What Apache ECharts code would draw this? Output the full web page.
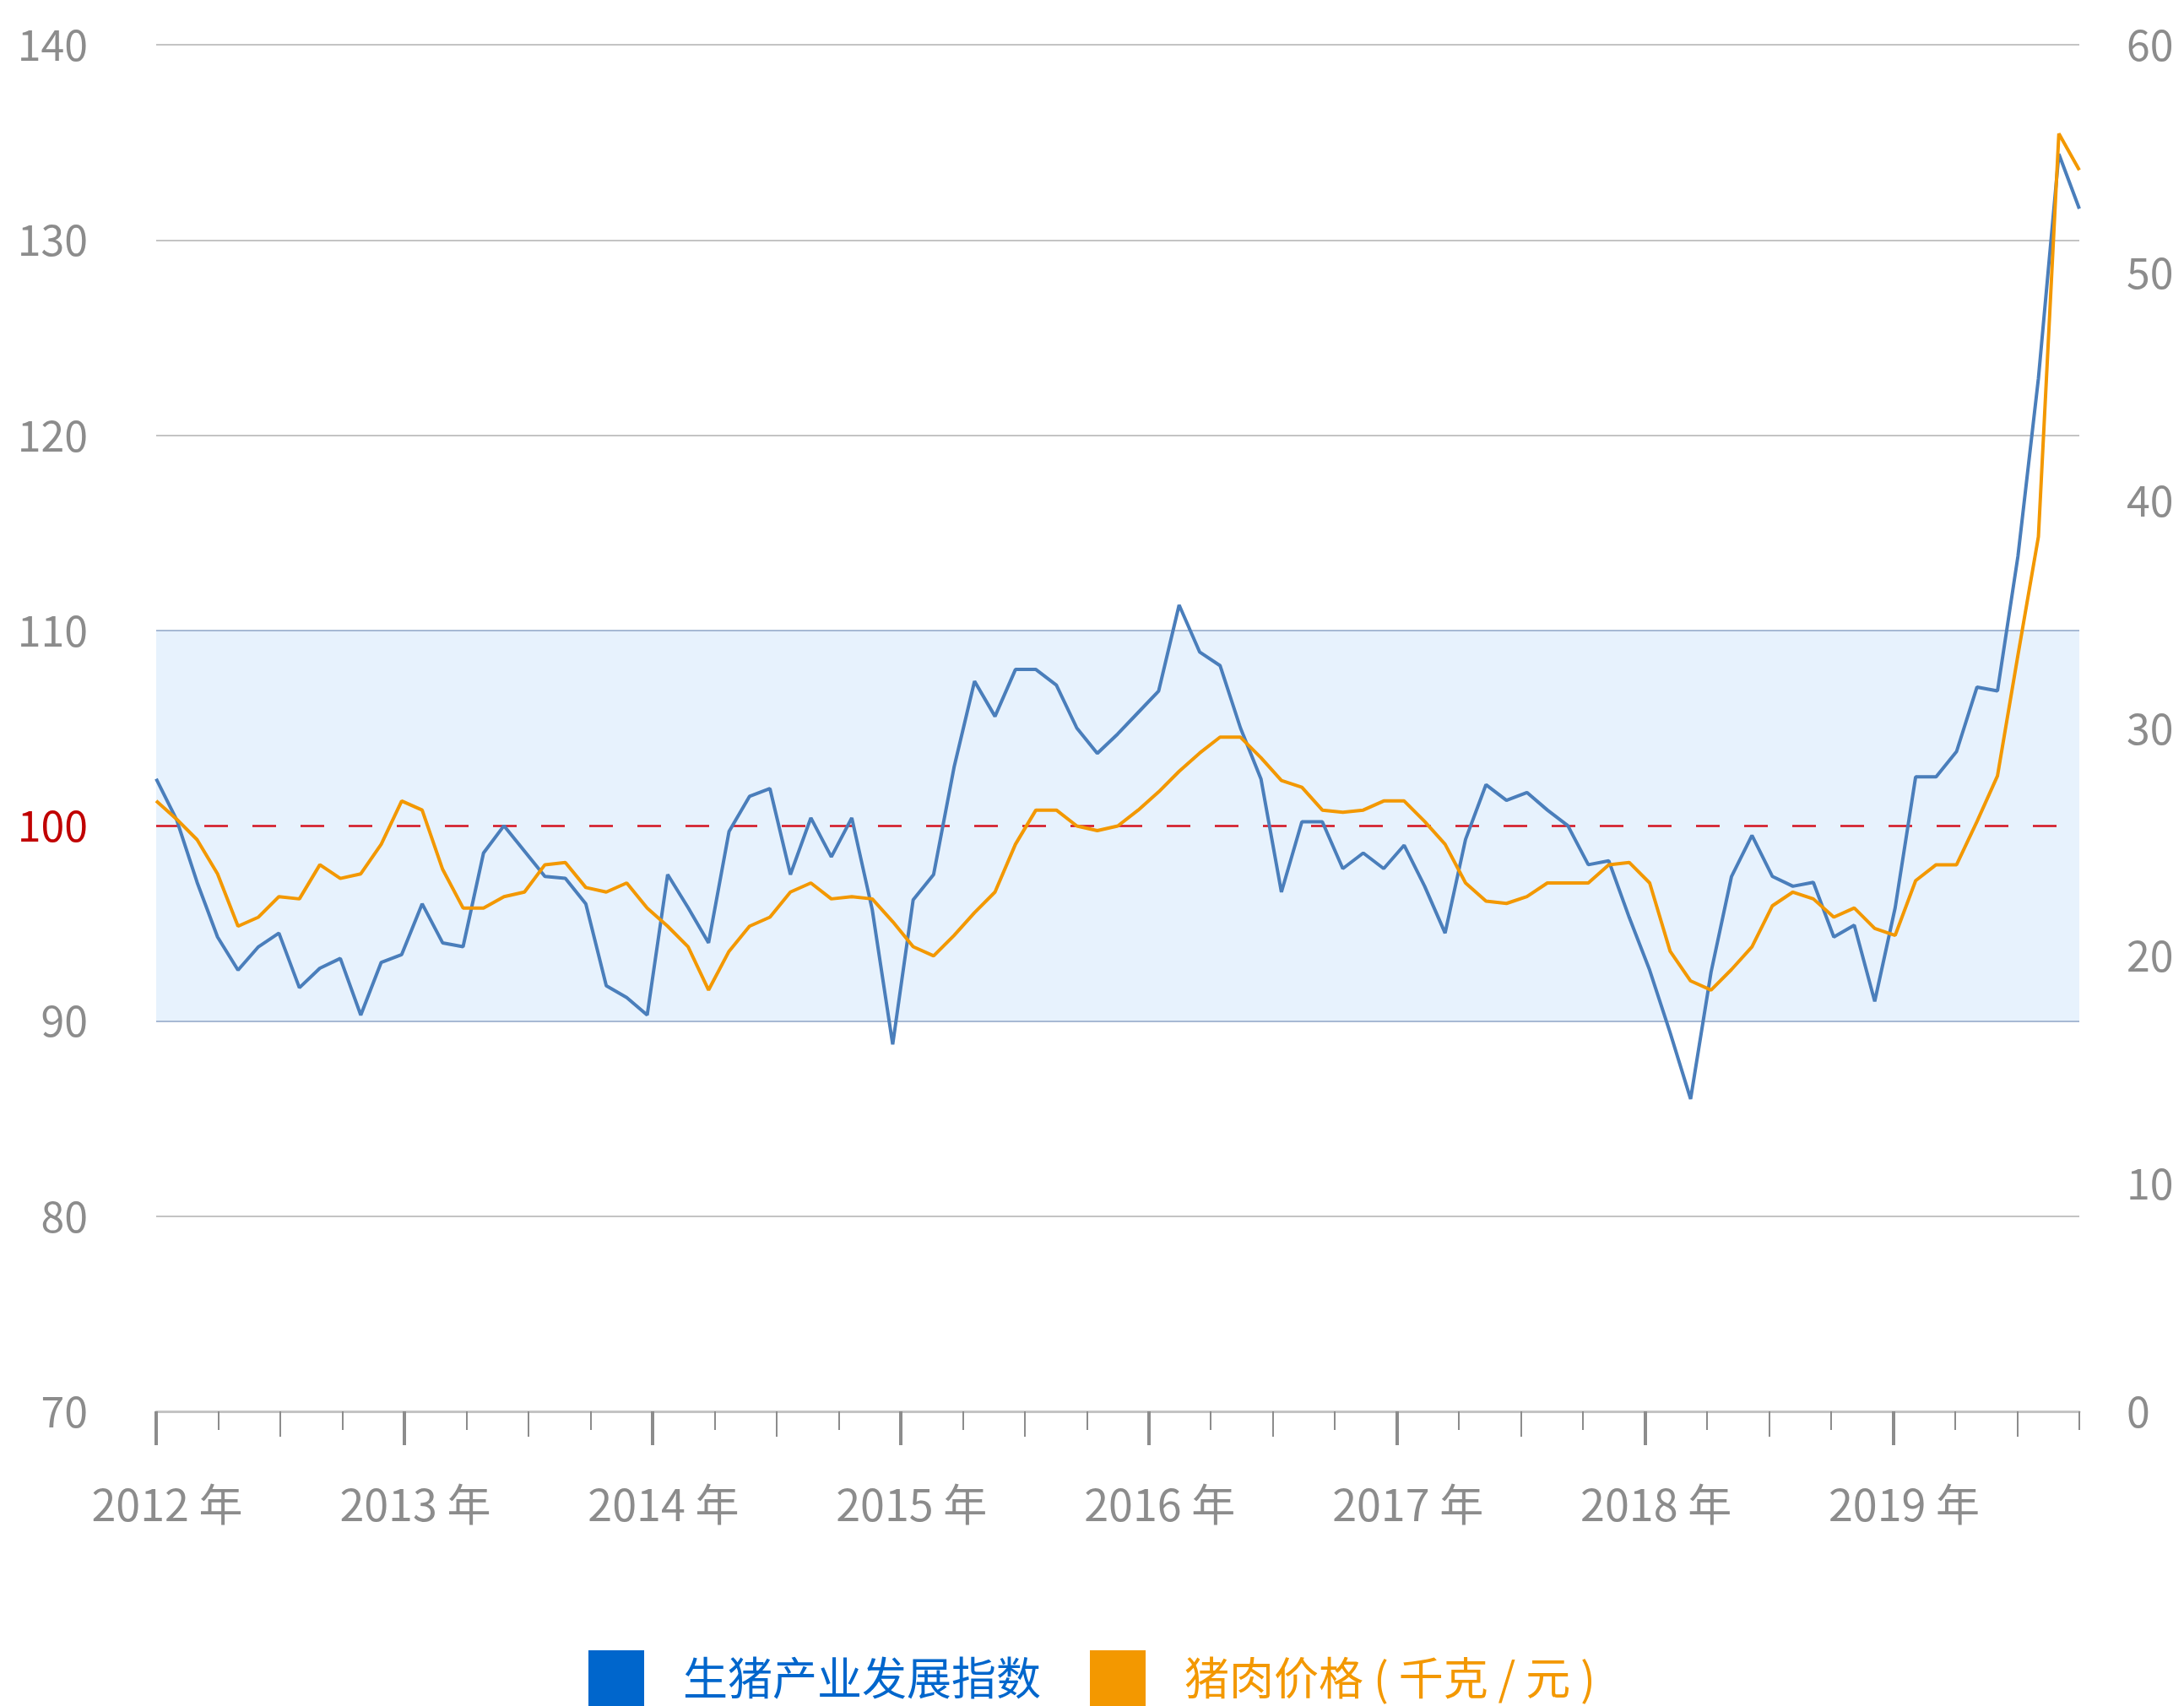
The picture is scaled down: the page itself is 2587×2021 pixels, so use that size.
<!DOCTYPE html>
<html>
<head>
<meta charset="utf-8">
<title>生猪产业发展指数</title>
<script src="https://cdn.jsdelivr.net/npm/echarts@6/dist/echarts.min.js"></script>
<style>
  html, body { margin: 0; padding: 0; background: #fff; }
  #chart { width: 2587px; height: 2021px; }
</style>
</head>
<body>
<div id="chart"></div>
<script>
const yearLabels = ["2012 年", "2013 年", "2014 年", "2015 年", "2016 年", "2017 年", "2018 年", "2019 年"];

// 生猪产业发展指数 (left axis), monthly
const indexValues = [
  102.4, 100.3, 97.1, 94.3, 92.6, 93.8, 94.5, 91.7, 92.7, 93.2, 90.3, 93.0, 93.4,
  96.0, 94.0, 93.8, 98.6, 100.0, 98.7, 97.4, 97.3, 96.0, 91.8, 91.2, 90.3,
  97.5, 95.8, 94.0, 99.7, 101.5, 101.9, 97.5, 100.4, 98.4, 100.4, 95.7, 88.8,
  96.2, 97.5, 103.0, 107.4, 105.6, 108.0, 108.0, 107.2, 105.0, 103.7, 104.7, 105.8,
  106.9, 111.3, 108.9, 108.2, 105.0, 102.4, 96.6, 100.2, 100.2, 97.8, 98.6, 97.8,
  99.0, 96.9, 94.5, 99.3, 102.1, 101.3, 101.7, 100.8, 100.0, 98.0, 98.2, 95.3,
  92.6, 89.4, 86.0, 92.5, 97.4, 99.5, 97.4, 96.9, 97.1, 94.3, 94.9, 91.0,
  95.8, 102.5, 102.5, 103.8, 107.1, 106.9, 113.8, 122.9, 134.4, 131.6
];

// 猪肉价格 (right axis), monthly
const porkPrice = [
  26.8, 26.0, 25.1, 23.6, 21.3, 21.7, 22.6, 22.5, 24.0, 23.4, 23.6, 24.9, 26.8,
  26.4, 23.8, 22.1, 22.1, 22.6, 22.8, 24.0, 24.1, 23.0, 22.8, 23.2, 22.1,
  21.3, 20.4, 18.5, 20.2, 21.3, 21.7, 22.8, 23.2, 22.5, 22.6, 22.5, 21.5,
  20.4, 20.0, 20.9, 21.9, 22.8, 24.9, 26.4, 26.4, 25.7, 25.5, 25.7, 26.4,
  27.2, 28.1, 28.9, 29.6, 29.6, 28.7, 27.7, 27.4, 26.4, 26.3, 26.4, 26.8,
  26.8, 25.9, 24.9, 23.2, 22.4, 22.3, 22.6, 23.2, 23.2, 23.2, 24.0, 24.1,
  23.2, 20.2, 18.9, 18.5, 19.4, 20.4, 22.2, 22.8, 22.5, 21.7, 22.1, 21.2,
  20.9, 23.3, 24.0, 24.0, 25.9, 27.9, 33.2, 38.4, 56.1, 54.5
];

const FONT = '"Noto Sans CJK SC", "Noto Sans", sans-serif';
const GRAY = "#8c8c8c";

// category list for the data points
let months = [];
for (let i = 0; i < indexValues.length; i++) {
  months.push("m" + i);
}
// category list for the axis ticks (Jan 2012 .. Oct 2019)
let tickMonths = [];
for (let i = 0; i < 94; i++) {
  tickMonths.push("t" + i);
}

let chart = echarts.init(document.getElementById("chart"));

function tickAxis(intervalFn, len, width) {
  return {
    type: "category",
    data: tickMonths,
    boundaryGap: false,
    position: "bottom",
    axisLine: { show: false, onZero: false },
    axisTick: {
      interval: intervalFn,
      length: len,
      lineStyle: { color: GRAY, width: width },
    },
    axisLabel: { show: false },
    splitLine: { show: false },
  };
}

let quarterAxis = tickAxis((i) => i % 3 === 0 && i % 6 !== 0, 22, 2);
quarterAxis.axisLine = { show: true, onZero: false, lineStyle: { color: "#c4c4c4", width: 3 } };
let halfAxis = tickAxis((i) => i % 12 === 6, 30, 2);
let yearAxis = tickAxis((i) => i % 12 === 0, 40, 4);
yearAxis.axisLabel = {
  show: true,
  interval: 0,
  margin: 84,
  fontSize: 52,
  fontFamily: FONT,
  color: GRAY,
  padding: [0, 0, 0, 26],
  formatter: (v, i) => (i % 12 === 0 ? yearLabels[i / 12] : ""),
};

let option = {
  animation: false,
  backgroundColor: "#ffffff",
  grid: { left: 185, right: 124, top: 53, height: 1619 },
  legend: {
    left: "center",
    top: 1955,
    padding: 0,
    icon: "rect",
    itemWidth: 66,
    itemHeight: 66,
    itemGap: 58,
    textStyle: { fontSize: 53, fontFamily: FONT, padding: [0, 0, 0, 41] },
    data: [
      { name: "生猪产业发展指数", itemStyle: { color: "#0066cc" }, textStyle: { color: "#0066cc" } },
      { name: "猪肉价格 ( 千克 / 元 )", itemStyle: { color: "#f39800" }, textStyle: { color: "#f39800" } },
    ],
  },
  xAxis: [
    { type: "category", data: months, boundaryGap: false, show: false, position: "bottom" },
    quarterAxis,
    halfAxis,
    yearAxis,
  ],
  yAxis: [
    {
      type: "value",
      min: 70,
      max: 140,
      interval: 10,
      position: "left",
      axisLine: { show: false },
      axisTick: { show: false },
      splitLine: { show: false },
      axisLabel: {
        margin: 81,
        fontSize: 50,
        fontFamily: FONT,
        color: (v) => (Number(v) === 100 ? "#c00000" : GRAY),
      },
    },
    {
      type: "value",
      min: 0,
      max: 60,
      interval: 10,
      position: "right",
      axisLine: { show: false },
      axisTick: { show: false },
      splitLine: { show: false },
      axisLabel: { margin: 56, fontSize: 50, fontFamily: FONT, color: GRAY },
    },
  ],
  series: [
    {
      name: "生猪产业发展指数",
      type: "line",
      xAxisIndex: 0,
      yAxisIndex: 0,
      data: indexValues,
      showSymbol: false,
      symbol: "none",
      z: 3,
      lineStyle: { color: "#4a7ebb", width: 4 },
      itemStyle: { color: "#4a7ebb" },
      markArea: {
        silent: true,
        z: 1,
        itemStyle: { color: "#e7f2fd" },
        data: [[{ yAxis: 90 }, { yAxis: 110 }]],
      },
      markLine: {
        silent: true,
        z: 2,
        symbol: "none",
        label: { show: false },
        data: [
          { yAxis: 80, lineStyle: { color: "#c4c4c4", width: 2, type: "solid" } },
          { yAxis: 90, lineStyle: { color: "#a7b9d4", width: 2, type: "solid" } },
          { yAxis: 100, lineStyle: { color: "#d3121f", width: 2.5, type: [28, 29] } },
          { yAxis: 110, lineStyle: { color: "#a7b9d4", width: 2, type: "solid" } },
          { yAxis: 120, lineStyle: { color: "#c4c4c4", width: 2, type: "solid" } },
          { yAxis: 130, lineStyle: { color: "#c4c4c4", width: 2, type: "solid" } },
          { yAxis: 140, lineStyle: { color: "#c4c4c4", width: 2, type: "solid" } },
        ],
      },
    },
    {
      name: "猪肉价格 ( 千克 / 元 )",
      type: "line",
      xAxisIndex: 0,
      yAxisIndex: 1,
      data: porkPrice,
      showSymbol: false,
      symbol: "none",
      z: 3,
      lineStyle: { color: "#f39800", width: 4 },
      itemStyle: { color: "#f39800" },
    },
  ],
};
chart.setOption(option);
</script>
</body>
</html>
